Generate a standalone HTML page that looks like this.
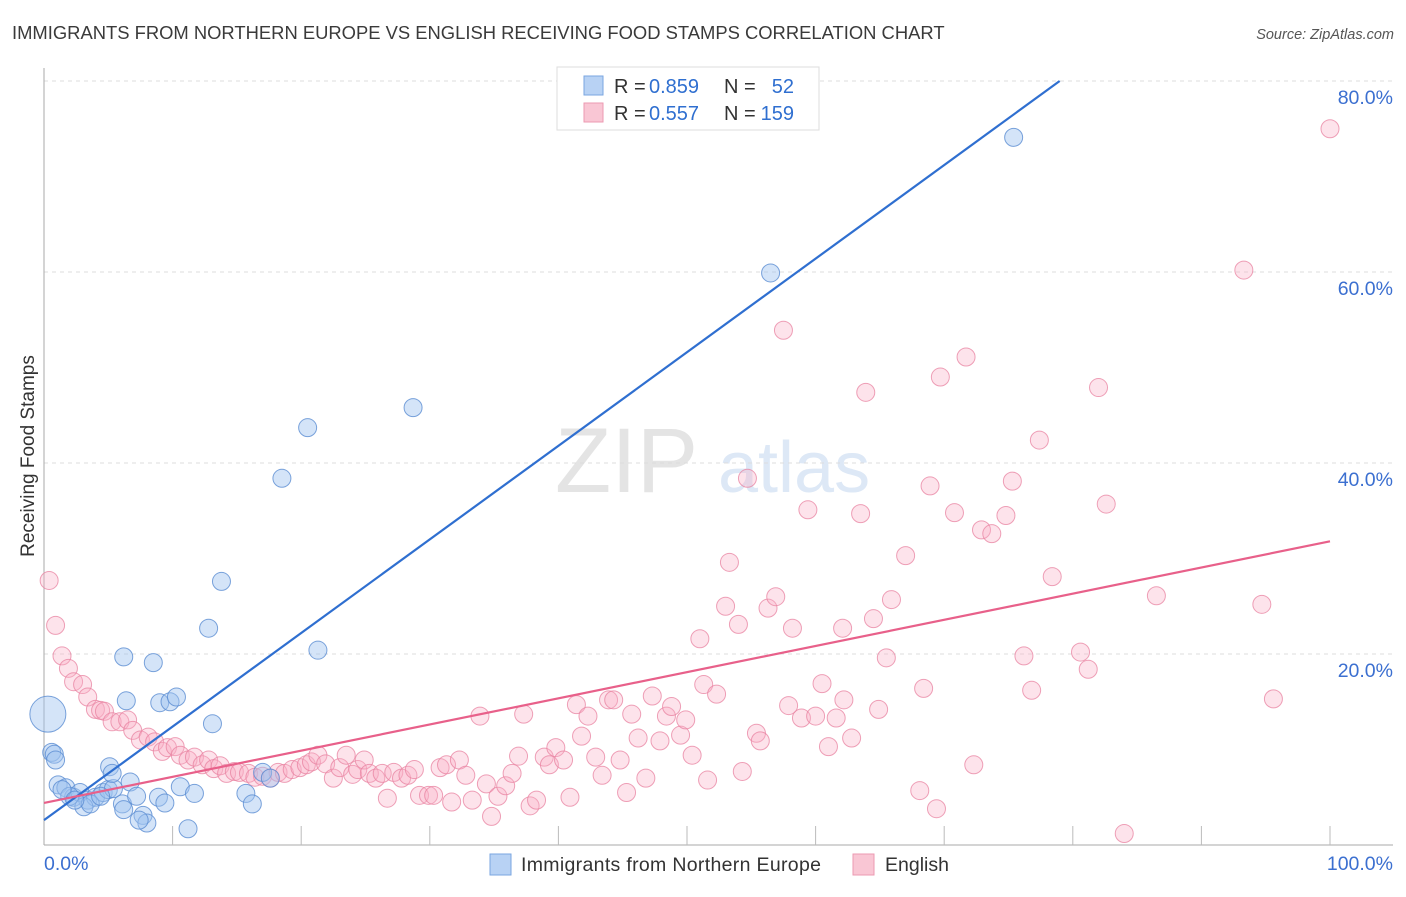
<!DOCTYPE html>
<html><head><meta charset="utf-8"><style>
body{margin:0;background:#fff;font-family:"Liberation Sans",sans-serif}
svg text{font-family:"Liberation Sans",sans-serif}
</style></head><body>
<svg id="c" width="1406" height="892" xmlns="http://www.w3.org/2000/svg">
<text x="12" y="39" font-size="18.4" fill="#3a3a3a">IMMIGRANTS FROM NORTHERN EUROPE VS ENGLISH RECEIVING FOOD STAMPS CORRELATION CHART</text>
<text x="1394" y="39" font-size="14.5" fill="#555" font-style="italic" text-anchor="end">Source: ZipAtlas.com</text>
<text x="555" y="492" font-size="92" fill="#e4e4e4" font-family="Liberation Serif">ZIP</text>
<text x="718" y="492" font-size="72" fill="#dde8f6">atlas</text>
<g id="grid"></g><g id="axes"></g><g id="pts"></g><g id="lines"></g>
<text transform="translate(34,456) rotate(-90)" font-size="19" fill="#333" text-anchor="middle">Receiving Food Stamps</text>
<g>
<rect x="557" y="67" width="262" height="63" fill="#fff" stroke="#ddd"/>
<rect x="584" y="76" width="19" height="19" fill="#b8d2f4" stroke="#7aa6e0"/>
<rect x="584" y="103" width="19" height="19" fill="#f9c6d4" stroke="#ec9ab2"/>
<text x="614" y="93" font-size="20" fill="#333">R =</text>
<text x="649" y="93" font-size="20" fill="#2f6fd0">0.859</text>
<text x="724" y="93" font-size="20" fill="#333">N =</text>
<text x="794" y="93" font-size="20" fill="#2f6fd0" text-anchor="end">52</text>
<text x="614" y="120" font-size="20" fill="#333">R =</text>
<text x="649" y="120" font-size="20" fill="#2f6fd0">0.557</text>
<text x="724" y="120" font-size="20" fill="#333">N =</text>
<text x="794" y="120" font-size="20" fill="#2f6fd0" text-anchor="end">159</text>
</g>
<g>
<rect x="490" y="854" width="21" height="21" fill="#b8d2f4" stroke="#7aa6e0"/>
<text x="521" y="871" font-size="19.5" fill="#333" textLength="300">Immigrants from Northern Europe</text>
<rect x="853" y="854" width="21" height="21" fill="#f9c6d4" stroke="#ec9ab2"/>
<text x="885" y="871" font-size="19.5" fill="#333">English</text>
</g>
</svg>
<script>
const blueX=[75.4,56.5,28.7,20.5,18.5,13.8,12.8,6.2,8.5,21.3,6.4,9.0,9.8,10.3,13.1,0.3,0.6,0.8,5.1,6.7,1.1,1.7,2.3,2.8,3.4,4.0,4.6,5.0,5.4,3.1,3.6,6.1,7.2,8.9,9.4,10.6,11.7,15.7,16.2,17.0,17.6,7.7,8.0,11.2,7.4,5.3,4.4,2.0,1.4,2.4,0.9,6.2];
const blueY=[74.1,59.9,45.8,43.7,38.4,27.6,22.7,19.7,19.1,20.4,15.1,14.9,15.0,15.5,12.7,13.7,9.7,9.5,8.2,6.6,6.3,6.0,5.0,5.5,4.7,5.0,5.5,5.8,5.9,4.0,4.3,4.3,5.1,5.0,4.4,6.1,5.4,5.4,4.3,7.6,7.0,3.1,2.3,1.7,2.6,7.5,5.1,5.1,5.8,4.7,8.9,3.7];
const blueBig=[15];
const pinkX=[0.4,0.9,1.4,1.9,2.3,3.0,3.4,4.0,4.4,4.7,5.3,5.9,6.5,6.9,7.5,8.1,8.6,9.2,9.6,10.2,10.6,11.2,11.7,12.3,12.8,13.2,13.7,14.2,14.8,15.2,15.9,16.4,17.0,17.6,18.2,18.7,19.3,19.9,20.4,20.8,21.3,21.9,22.5,23.0,23.5,24.0,24.4,24.9,25.3,25.8,26.3,26.7,27.2,27.8,28.3,28.8,29.2,29.9,30.3,30.8,31.3,31.7,32.3,32.8,33.3,33.9,34.4,34.8,35.3,35.9,36.4,36.9,37.3,37.8,38.3,38.9,39.3,39.8,40.4,40.9,41.4,41.8,42.3,42.9,43.4,43.9,44.3,44.8,45.3,45.7,46.2,46.8,47.3,47.9,48.4,48.8,49.5,49.9,50.4,51.0,51.3,51.6,52.3,53.0,53.3,54.0,54.3,54.7,55.4,55.7,56.3,56.9,57.5,57.9,58.2,58.9,59.4,60.0,60.5,61.0,61.6,62.1,62.2,62.8,63.5,63.9,64.5,64.9,65.5,65.9,67.0,68.1,68.4,68.9,69.4,69.7,70.8,71.7,72.3,72.9,73.7,74.8,75.3,76.2,76.8,77.4,78.4,80.6,81.2,82.0,82.6,84.0,86.5,93.3,94.7,95.6,100.0];
const pinkY=[27.7,23.0,19.8,18.5,17.1,16.8,15.5,14.2,14.1,14.0,12.9,12.9,13.1,12.0,11.0,11.3,10.8,9.8,10.2,10.3,9.4,8.9,9.2,8.4,8.9,8.0,8.3,7.5,7.7,7.6,7.5,7.1,7.2,7.0,7.6,7.5,7.9,8.1,8.4,8.7,9.4,8.5,7.0,8.1,9.4,7.4,7.9,8.9,7.5,7.0,7.5,4.9,7.6,7.0,7.3,7.9,5.2,5.2,5.2,8.1,8.4,4.5,8.9,7.3,4.7,13.5,6.4,3.0,5.1,6.2,7.5,9.3,13.7,4.1,4.7,9.2,8.4,10.2,8.9,5.0,14.7,11.4,13.5,9.2,7.3,15.2,15.2,8.9,5.5,13.7,11.2,7.0,15.6,10.9,13.5,14.5,11.5,13.1,9.4,21.6,16.8,6.8,15.8,25.0,29.6,23.1,7.7,38.4,11.7,10.9,24.8,26.0,53.9,14.6,22.7,13.3,35.1,13.5,16.9,10.3,13.3,22.7,15.2,11.2,34.7,47.4,23.7,14.2,19.6,25.7,30.3,5.7,16.4,37.6,3.8,49.0,34.8,51.1,8.4,33.0,32.6,34.5,38.1,19.8,16.2,42.4,28.1,20.2,18.4,47.9,35.7,1.2,26.1,60.2,25.2,15.3,75.0];
const blueFit=[2.6,0.98];
const pinkFit=[4.4,0.274];
const yTicks=[20,40,60,80];
const yTickLabels=["20.0%","40.0%","60.0%","80.0%"];
const xTicks=[0,10,20,30,40,50,60,70,80,90,100];
const NS="http://www.w3.org/2000/svg";
const sx=v=>44+v*12.86, sy=v=>845-v*9.55;
function mk(tag,attrs,parent){const e=document.createElementNS(NS,tag);for(const k in attrs)e.setAttribute(k,attrs[k]);document.getElementById(parent).appendChild(e);return e;}
yTicks.forEach((t,i)=>{
 const g=mk('line',{x1:44,x2:1393,y1:sy(t),y2:sy(t),stroke:'#ddd','stroke-dasharray':'4,4'},'grid');
 
 
 const tx=mk('text',{x:1393,y:sy(t)+23,'font-size':19.5,fill:'#3b6fd0','text-anchor':'end'},'grid');
 tx.textContent=yTickLabels[i];
 
 
});
const ax=mk('line',{x1:44,x2:44,y1:68,y2:845,stroke:'#aaa'},'axes');


const bx=mk('line',{x1:44,x2:1393,y1:845,y2:845,stroke:'#aaa'},'axes');


xTicks.forEach(t=>{if(t===0)return;const l=mk('line',{x1:sx(t),x2:sx(t),y1:826,y2:845,stroke:'#bbb'},'axes');
 
 });
const l0=mk('text',{x:44,y:870,'font-size':19.5,fill:'#3b6fd0'},'axes');l0.textContent='0.0%';


const l1=mk('text',{x:1393,y:870,'font-size':19.5,fill:'#3b6fd0','text-anchor':'end'},'axes');l1.textContent='100.0%';


pinkX.forEach((x,i)=>{const c=mk('circle',{cx:sx(x),cy:sy(pinkY[i]),r:9,fill:'rgba(248,175,198,0.35)',stroke:'rgba(232,130,160,0.75)','stroke-width':1},'pts');
 
 });
blueX.forEach((x,i)=>{const c=mk('circle',{cx:sx(x),cy:sy(blueY[i]),r:blueBig.includes(i)?18:9,fill:'rgba(160,196,240,0.45)',stroke:'rgba(90,140,210,0.8)','stroke-width':1},'pts');
 
 });
const bEnd=(80-blueFit[0])/blueFit[1];
const b=mk('line',{x1:sx(0),y1:sy(blueFit[0]),x2:sx(bEnd),y2:sy(80),stroke:'#2f6fd0','stroke-width':2.2},'lines');


const p=mk('line',{x1:sx(0),y1:sy(pinkFit[0]),x2:sx(100),y2:sy(pinkFit[0]+100*pinkFit[1]),stroke:'#e8608a','stroke-width':2.2},'lines');


</script>
</body></html>
